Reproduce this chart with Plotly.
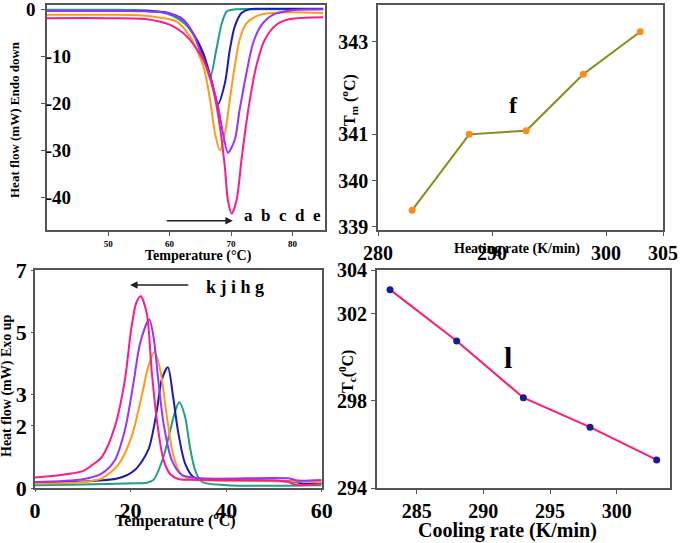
import plotly.graph_objects as go

W, H = 685, 543
SERIF = "Liberation Serif, Times New Roman, serif"

# ---------- data: melting (top-left) ----------
melt_a_x = [40, 50, 56, 58.5, 60.5, 62.5, 64, 65, 65.8, 66.6, 67.6, 68.5, 69.3, 70.5, 75, 85]
melt_a_y = [0, 0, -0.1, -0.5, -1.3, -3.0, -5.5, -8.0, -11, -14.5, -8.6, -2.9, -0.4, 0.05, 0.1, 0.1]
melt_b_x = [40, 50, 56, 59.5, 62.2, 63.8, 65.5, 66.8, 67.9, 69, 69.8, 70.6, 71.7, 73, 76, 85]
melt_b_y = [-0.3, -0.3, -0.3, -0.6, -2.1, -5, -9.3, -15, -20.1, -15.7, -8.6, -3.6, -0.7, 0.1, 0.2, 0.2]
melt_c_x = [40, 50, 55, 58, 61.1, 63.3, 65.5, 66.6, 67.4, 68.2, 69, 69.8, 70.6, 71.4, 72.5, 74.7, 78.5, 85]
melt_c_y = [-1.1, -1.1, -1.2, -1.6, -2.5, -5.7, -12.1, -19.3, -26.4, -30, -26.4, -19.3, -12.1, -6.4, -2.9, -1.1, -0.6, -0.7]
melt_d_x = [40, 50, 56, 59.5, 62.2, 63.8, 64.9, 66.6, 67.9, 68.7, 69.5, 70.6, 71.4, 72.5, 73.6, 75, 76.8, 79.6, 85]
melt_d_y = [-0.3, -0.3, -0.35, -0.7, -2.2, -5.0, -8.6, -14.3, -20.7, -26.4, -30.5, -27.8, -21.4, -13.6, -7.1, -3.2, -1.1, -0.15, 0.1]
melt_e_x = [40, 50, 56, 60, 62.8, 65.5, 67.1, 68.2, 69, 69.5, 70.1, 70.9, 71.7, 72.8, 74.1, 75.5, 77.4, 79.6, 85]
melt_e_y = [-1.8, -1.8, -2.0, -3.2, -5.7, -10.7, -17.1, -25, -33.6, -40.7, -43.5, -40.7, -32.1, -21.4, -12.1, -6.4, -3.2, -2.0, -1.6]

# ---------- data: crystallisation (bottom-left) ----------
cool_g_x = [0, 10, 20.9, 23.4, 24.8, 26.9, 28.3, 29.4, 30.2, 31.4, 32.4, 33.5, 34.9, 40, 60]
cool_g_y = [0.1, 0.12, 0.16, 0.18, 0.27, 1.01, 1.86, 2.5, 2.76, 2.3, 1.34, 0.59, 0.21, 0.1, 0.1]
cool_h_x = [0, 10, 17.4, 20.9, 23.7, 25.5, 26.5, 27.8, 28.9, 29.9, 31.4, 33.1, 35.9, 45, 54, 56, 60]
cool_h_y = [0.2, 0.22, 0.32, 0.59, 1.23, 2.5, 3.47, 3.88, 2.94, 1.86, 0.8, 0.37, 0.27, 0.25, 0.22, 0.15, 0.18]
cool_i_x = [0, 10, 14, 17.4, 20.2, 22.3, 23.7, 25.0, 26.2, 27.6, 29, 30.7, 33, 40, 55, 60]
cool_i_y = [0.15, 0.2, 0.32, 0.75, 1.65, 2.94, 3.9, 4.38, 3.8, 2.3, 1.02, 0.43, 0.28, 0.25, 0.22, 0.2]
cool_j_x = [0, 10, 14, 16.7, 18.8, 20.6, 22, 23.9, 24.8, 25.8, 26.9, 28.6, 30.7, 35, 53, 55, 60]
cool_j_y = [0.2, 0.29, 0.48, 0.9, 1.86, 3.37, 4.65, 5.42, 4.86, 3.47, 2.08, 0.91, 0.43, 0.32, 0.32, 0.25, 0.27]
cool_k_x = [0, 5, 10, 12, 14, 16.7, 18.8, 20.2, 21.2, 22.1, 23.4, 24.4, 25.5, 26.9, 28.3, 30, 35, 50, 53, 55, 60]
cool_k_y = [0.35, 0.42, 0.55, 0.75, 1.01, 1.97, 3.47, 5.18, 5.95, 6.16, 5.6, 3.8, 2.19, 0.91, 0.45, 0.3, 0.27, 0.25, 0.2, 0.1, 0.15]

# ---------- data: rates ----------
heating_rate = [283, 288, 293, 298, 303]
tm_values = [339.36, 341.0, 341.08, 342.3, 343.22]
cooling_rate = [283, 288, 293, 298, 303]
tc_values = [303.1, 300.75, 298.15, 296.8, 295.3]

tm_ticks = [339, 340, 341, 343]
tc_ticks = [294, 298, 302, 304]
flow_up_ticks = [0, 2, 3, 5, 7]
flow_down_ticks = [-10, -20, -30, -40]

C_TEAL, C_NAVY, C_ORANGE, C_PURPLE, C_PINK = "#1f9e8a", "#1c1ca8", "#ff9a1a", "#9933ff", "#ff1a8c"

def px_x(p):
    return p / W

def px_y(p):
    return 1 - p / H

fig = go.Figure()

for xs, ys, c in [(melt_a_x, melt_a_y, C_TEAL), (melt_b_x, melt_b_y, C_NAVY),
                  (melt_c_x, melt_c_y, C_ORANGE), (melt_d_x, melt_d_y, C_PURPLE),
                  (melt_e_x, melt_e_y, C_PINK)]:
    fig.add_trace(go.Scatter(x=xs, y=ys, mode="lines", line=dict(color=c, width=2, shape="spline", smoothing=0.8),
                             xaxis="x", yaxis="y", showlegend=False))

fig.add_trace(go.Scatter(x=heating_rate, y=tm_values, mode="lines+markers",
                         line=dict(color="#8a8a1c", width=2), marker=dict(color="#ff8c1a", size=7),
                         xaxis="x2", yaxis="y2", showlegend=False))

for xs, ys, c in [(cool_g_x, cool_g_y, C_TEAL), (cool_h_x, cool_h_y, C_NAVY),
                  (cool_i_x, cool_i_y, C_ORANGE), (cool_j_x, cool_j_y, C_PURPLE),
                  (cool_k_x, cool_k_y, C_PINK)]:
    fig.add_trace(go.Scatter(x=xs, y=ys, mode="lines", line=dict(color=c, width=2, shape="spline", smoothing=0.8),
                             xaxis="x3", yaxis="y3", showlegend=False))

fig.add_trace(go.Scatter(x=cooling_rate, y=tc_values, mode="lines+markers",
                         line=dict(color="#ff1a75", width=2), marker=dict(color="#1a1a99", size=7),
                         xaxis="x4", yaxis="y4", showlegend=False))

frame = dict(showline=True, mirror=True, linecolor="#555", linewidth=1.5, showgrid=False, zeroline=False,
             ticks="outside", tickcolor="#555", automargin=False)

def bfont(size):
    return dict(family=SERIF, size=size, color="black", weight="bold")

TL_X = [px_x(46.7), px_x(325)]
TR_X = [px_x(378), px_x(663)]
BL_X = [px_x(35), px_x(321.7)]
BR_X = [px_x(376.7), px_x(670)]
TOP_Y = [px_y(230), px_y(5)]
BOT_Y = [px_y(488.3), px_y(270)]

fig.update_layout(
    width=W, height=H, margin=dict(l=0, r=0, t=0, b=0, autoexpand=False),
    paper_bgcolor="white", plot_bgcolor="white",
    xaxis=dict(domain=TL_X, anchor="y", range=[40, 85.3], tickvals=[40, 50, 60, 70, 80],
               tickfont=bfont(9), ticklen=4, **frame),
    yaxis=dict(domain=TOP_Y, anchor="x", range=[-47, 1], tickvals=[0] + flow_down_ticks,
               ticktext=[""] + [str(v) for v in flow_down_ticks], ticklen=4,
               ticklabelposition="inside", tickfont=bfont(19), **frame),
    xaxis2=dict(domain=TR_X, anchor="y2", range=[280, 305], tickvals=[280, 290, 300, 305],
                tickfont=bfont(20), ticklen=4, **frame),
    yaxis2=dict(domain=TOP_Y, anchor="x2", range=[338.93, 343.8], tickvals=tm_ticks,
                tickfont=bfont(20), ticklen=4, **frame),
    xaxis3=dict(domain=BL_X, anchor="y3", range=[0, 60], tickvals=[0, 20, 40, 60],
                tickfont=bfont(22), ticklen=2, **frame),
    yaxis3=dict(domain=BOT_Y, anchor="x3", range=[0, 7], tickvals=flow_up_ticks,
                tickfont=bfont(22), ticklen=2, **frame),
    xaxis4=dict(domain=BR_X, anchor="y4", range=[282, 304], tickvals=[285, 290, 295, 300],
                tickfont=bfont(20), ticklen=4, **frame),
    yaxis4=dict(domain=BOT_Y, anchor="x4", range=[294, 304], tickvals=tc_ticks,
                tickfont=bfont(20), ticklen=4, **frame),
)

# "0" tick label of the top-left panel sits outside the frame in the reference
fig.add_annotation(text="0", x=px_x(31), y=0, xref="paper", yref="y", showarrow=False,
                   font=bfont(19), xanchor="center", yanchor="middle")

def ann(text, xp, yp, size, angle=0):
    fig.add_annotation(text=text, x=px_x(xp), y=px_y(yp), xref="paper", yref="paper",
                       showarrow=False, textangle=angle, font=bfont(size),
                       xanchor="center", yanchor="middle")

ann("Heat flow (mW) Endo down", 14, 120, 13, -90)
ann("Temperature (°C)", 198, 256, 14)
ann("T<sub>m</sub> (<sup>o</sup>C)", 349, 100, 16, -90)
ann("Heating rate (K/min)", 517, 249, 14)
ann("f", 513, 105, 24)
ann("Heat flow (mW) Exo up", 7, 386, 14, -90)
ann("Temperature (<sup>o</sup>C)", 175, 519, 16)
ann("T<sub>c</sub>(<sup>0</sup>C)", 347, 372, 16, -90)
ann("Cooling rate (K/min)", 507, 530, 20)
ann("l", 508, 357, 30)

# arrows with labels
fig.add_annotation(x=70.3, y=-45, ax=59.3, ay=-45, xref="x", yref="y", axref="x", ayref="y",
                   showarrow=True, arrowhead=2, arrowsize=1, arrowwidth=1.5, arrowcolor="#222", text="")
fig.add_annotation(x=78.3, y=-44, xref="x", yref="y", showarrow=False,
                   text="a\u00a0 b\u00a0 c\u00a0 d\u00a0 e", font=bfont(17))
fig.add_annotation(x=19.9, y=6.52, ax=32.4, ay=6.52, xref="x3", yref="y3", axref="x3", ayref="y3",
                   showarrow=True, arrowhead=2, arrowsize=1, arrowwidth=1.5, arrowcolor="#222", text="")
fig.add_annotation(x=41.9, y=6.45, xref="x3", yref="y3", showarrow=False,
                   text="k j i h g", font=bfont(18))

fig.write_html("out.html", config={"displayModeBar": False},
               post_script="document.body.style.margin='0';")
